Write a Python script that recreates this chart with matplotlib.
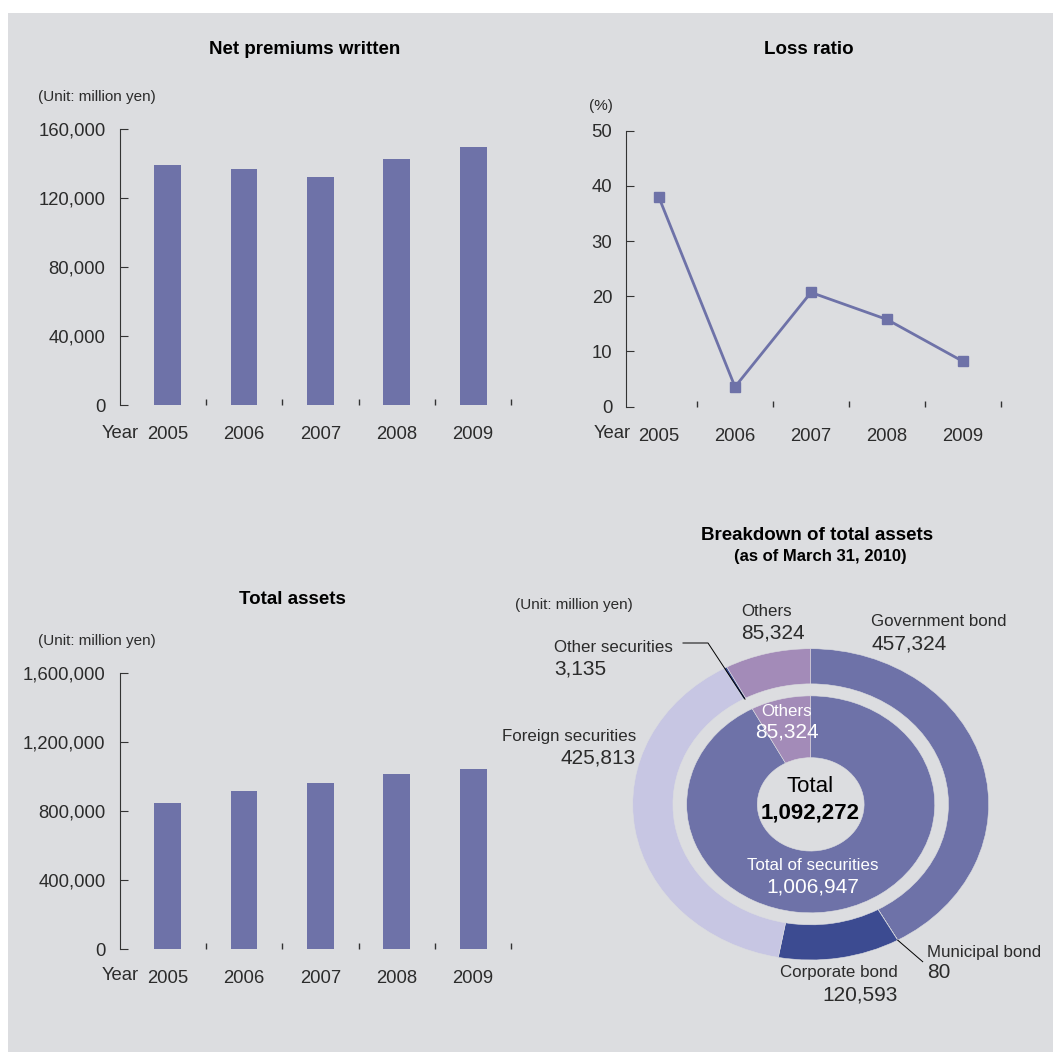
import matplotlib
import matplotlib.pyplot as plt
import numpy as np
from matplotlib.patches import Rectangle

matplotlib.use("Agg")

# --- Data ---
years = ["2005", "2006", "2007", "2008", "2009"]
net_premiums = [139100, 136800, 132200, 142600, 149600]
loss_ratio = [37.9, 3.6, 20.7, 15.8, 8.2]
total_assets = [846000, 916000, 962000, 1014000, 1043000]

outer_labels = ["Government bond", "Municipal bond", "Corporate bond",
                "Foreign securities", "Other securities", "Others"]
outer_values = [457324, 80, 120593, 425813, 3135, 85324]
inner_labels = ["Total of securities", "Others"]
inner_values = [1006947, 85324]
grand_total = 1092272

# --- Style ---
W, H, dpi = 1053, 1052, 100
bg = "#dcdde0"
bar_color = "#6e72a8"
dark_blue = "#3c4b91"
light_lav = "#c7c6e3"
mauve = "#a38bb8"
txt = "#2b2b2b"
plt.rcParams["font.family"] = ["Liberation Sans", "DejaVu Sans"]

fig = plt.figure(figsize=(W / dpi, H / dpi), dpi=dpi)
fig.patch.set_facecolor("white")
fig.patches.append(Rectangle((8 / W, 0), 1, 1 - 13 / H, transform=fig.transFigure,
                             facecolor=bg, edgecolor="none", zorder=-10))


def add_ax(left, top, right, bottom):
    return fig.add_axes([left / W, 1 - bottom / H, (right - left) / W, (bottom - top) / H])


def ftext(px, py, s, **kw):
    kw.setdefault("color", txt)
    kw.setdefault("va", "center")
    fig.text(px / W, 1 - py / H, s, **kw)


def style_axis(ax, ymax, step, fmt):
    ax.set_facecolor("none")
    for side in ["top", "right", "bottom"]:
        ax.spines[side].set_visible(False)
    ax.spines["left"].set_color("#333333")
    ax.spines["left"].set_linewidth(0.8)
    ax.set_ylim(0, ymax)
    yt = np.arange(0, ymax + 1, step)
    ax.set_yticks(yt, [fmt(v) for v in yt])
    ax.tick_params(axis="y", direction="in", length=6, width=0.8, color="#333333",
                   pad=10, labelsize=13.3, labelcolor=txt)
    ax.set_xticks(range(len(years)), years)
    ax.tick_params(axis="x", length=0, pad=15, labelsize=13.3, labelcolor=txt)
    ax.set_xticks(np.arange(len(years)) + 0.5, minor=True)
    ax.tick_params(axis="x", which="minor", direction="in", length=4.5, width=1,
                   color="#333333")


title_fs = 13.5
unit_fs = 11

# --- Net premiums written ---
ax1 = add_ax(119.5, 129, 520.5, 405)
ax1.bar(range(len(years)), net_premiums, width=0.35, color=bar_color)
ax1.set_xlim(-0.63, 4.62)
style_axis(ax1, 160000, 40000, lambda v: f"{int(v):,}")
ftext(305, 50, "Net premiums written", ha="center", fontsize=title_fs, fontweight="bold",
      color="black")
ftext(38, 97, "(Unit: million yen)", fontsize=unit_fs)
ftext(139, 433, "Year", ha="right", fontsize=13.3)

# --- Loss ratio ---
ax2 = add_ax(626.3, 130.7, 1004.8, 406.7)
ax2.plot(range(len(years)), loss_ratio, color=bar_color, lw=2, marker="s",
         markersize=7.5, clip_on=False)
ax2.set_xlim(-0.43, 4.55)
style_axis(ax2, 50, 10, lambda v: f"{int(v)}")
ftext(809, 50, "Loss ratio", ha="center", fontsize=title_fs, fontweight="bold", color="black")
ftext(589, 106, "(%)", fontsize=unit_fs)
ftext(631, 433, "Year", ha="right", fontsize=13.3)

# --- Total assets ---
ax3 = add_ax(119.5, 672.7, 520.5, 949.3)
ax3.bar(range(len(years)), total_assets, width=0.35, color=bar_color)
ax3.set_xlim(-0.63, 4.62)
style_axis(ax3, 1600000, 400000, lambda v: f"{int(v):,}")
ftext(292, 599, "Total assets", ha="center", fontsize=title_fs, fontweight="bold",
      color="black")
ftext(38, 641, "(Unit: million yen)", fontsize=unit_fs)
ftext(139, 976, "Year", ha="right", fontsize=13.3)

# --- Breakdown of total assets (elliptical donut) ---
ax4 = add_ax(632.7, 648.7, 988.7, 960)
outer_colors = [bar_color, "#b4b4d4", dark_blue, light_lav, dark_blue, mauve]
ax4.pie(outer_values, colors=outer_colors, startangle=90, counterclock=False,
        radius=1.0, wedgeprops=dict(width=0.226, edgecolor=bg, linewidth=0.4))
ax4.pie(inner_values, colors=[bar_color, mauve], startangle=90, counterclock=False,
        radius=0.697, wedgeprops=dict(width=0.397, edgecolor=bg, linewidth=0.4))
ax4.set_aspect("auto")
ax4.set_xlim(-1, 1)
ax4.set_ylim(-1, 1)
ax4.set_facecolor("none")

# angles of outer wedges (degrees, clockwise from top)
cum = np.cumsum([0] + outer_values)
mid_deg = 90 - 360 * (cum[:-1] + np.array(outer_values) / 2) / cum[-1]


def to_pie(px, py):
    return ax4.transData.inverted().transform((px, H - py))


# leader: Other securities
a = np.deg2rad(mid_deg[4])
p0 = (0.77 * np.cos(a), 0.77 * np.sin(a))
p1 = to_pie(708, 643)
p2 = to_pie(683, 643)
ax4.plot([p0[0], p1[0], p2[0]], [p0[1], p1[1], p2[1]], color="black", lw=0.7, clip_on=False)
# leader: Municipal bond
a = np.deg2rad(mid_deg[1])
q0 = (np.cos(a), np.sin(a))
q1 = to_pie(922.7, 961.7)
ax4.plot([q0[0], q1[0]], [q0[1], q1[1]], color="black", lw=0.7, clip_on=False)

ftext(817, 536, "Breakdown of total assets", ha="center", fontsize=title_fs,
      fontweight="bold", color="black")
ftext(820, 557, "(as of March 31, 2010)", ha="center", fontsize=12, fontweight="bold",
      color="black")
ftext(515, 605, "(Unit: million yen)", fontsize=unit_fs)

name_fs, num_fs = 12.2, 15
outer_pos = {
    "Government bond": (871, 622, 644, "left"),
    "Municipal bond": (927, 952, 973, "left"),
    "Corporate bond": (898, 973, 995, "right"),
    "Foreign securities": (636, 737, 758, "right"),
    "Other securities": (554, 647, 669, "left"),
    "Others": (741, 612, 633, "left"),
}
for lab, val in zip(outer_labels, outer_values):
    x, y1, y2, ha = outer_pos[lab]
    ftext(x, y1, lab, ha=ha, fontsize=name_fs)
    ftext(x, y2, f"{val:,}", ha=ha, fontsize=num_fs)

inner_pos = {"Total of securities": (812.5, 865, 887), "Others": (787, 711, 732)}
for lab, val in zip(inner_labels, inner_values):
    x, y1, y2 = inner_pos[lab]
    ftext(x, y1, lab, ha="center", fontsize=name_fs, color="white")
    ftext(x, y2, f"{val:,}", ha="center", fontsize=num_fs, color="white")

ftext(810, 787, "Total", ha="center", fontsize=16, color="black")
ftext(810.5, 813, f"{grand_total:,}", ha="center", fontsize=16, fontweight="bold",
      color="black")

fig.savefig("out.png", dpi=dpi, facecolor=fig.get_facecolor())
